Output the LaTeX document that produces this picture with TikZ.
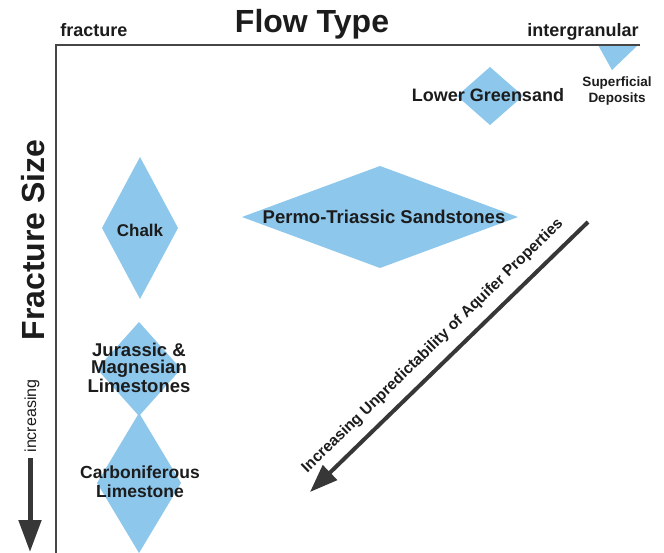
\documentclass[tikz,border=0pt]{standalone}
\usepackage{fontspec}
\setmainfont{Liberation Sans}
\usetikzlibrary{shapes.geometric,arrows.meta}
\definecolor{aqblue}{RGB}{141,199,236}
\definecolor{ink}{RGB}{28,28,28}
\definecolor{axisgray}{RGB}{70,70,70}
\definecolor{arrowgray}{RGB}{55,55,55}
\begin{document}
\begin{tikzpicture}[x=1pt,y=-1pt,
  lith/.style={diamond, fill=aqblue, draw=none, inner sep=0pt, outer sep=0pt},
  lab/.style={font=\bfseries\fontsize{18}{17}\selectfont, text=ink, align=center, inner sep=0pt},
  axislab/.style={font=\bfseries\fontsize{18}{18}\selectfont, text=ink, inner sep=0pt},
  biglab/.style={font=\bfseries\fontsize{32}{32}\selectfont, text=ink, inner sep=0pt},
]
\useasboundingbox[fill=white] (0,0) rectangle (664,553);

% lithology diamonds
\node[lith, minimum width=66, minimum height=58] (dgreen) at (490,96) {};
\node[lith, minimum width=76, minimum height=142] (dchalk) at (140,228) {};
\node[lith, minimum width=276, minimum height=102] (dpermo) at (380,217) {};
\node[lith, minimum width=84, minimum height=94] (djura) at (139,369) {};
\node[lith, minimum width=84, minimum height=140] (dcarb) at (139,483) {};
\coordinate (sa) at (598,45);
\coordinate (sb) at (638,45);
\coordinate (sc) at (612,70);
\fill[aqblue] (sa) -- (sb) -- (sc) -- cycle;

% axes
\coordinate (origin) at (56,45);
\coordinate (xend) at (640,45);
\coordinate (yend) at (56,553);
\draw[axisgray, line width=1.5] (xend) -- (origin) -- (yend);

% axis labels
\node[biglab, anchor=base] (title) at (312,33) {Flow Type};
\node[axislab, anchor=base] (frac) at (94,37) {fracture};
\node[axislab, anchor=base] (inter) at (583,37) {intergranular};
\node[biglab, rotate=90, anchor=base] (fsize) at (44,240) {Fracture Size};
\node[font=\fontsize{16}{16}\selectfont, text=ink, rotate=90, anchor=base, inner sep=0pt] (incr) at (36,416) {increasing};
\coordinate (ia) at (30,458);
\coordinate (ib) at (30,552);
\draw[arrowgray, line width=5, -{Triangle[length=32,width=22]}] (ia) -- (ib);

% lithology labels
\node[lab, anchor=base] (tgreen) at (488,102) {Lower Greensand};
\node[lab, font=\bfseries\fontsize{13.5}{15.5}\selectfont] (tsup) at (617,91) {Superficial\\Deposits};
\node[lab, font=\bfseries\fontsize{17}{17}\selectfont, anchor=base] (tchalk) at (140,237) {Chalk};
\node[lab, font=\bfseries\fontsize{18.5}{18.5}\selectfont, anchor=base] (tpermo) at (384,224) {Permo-Triassic Sandstones};
\node[lab, font=\bfseries\fontsize{18.5}{17}\selectfont] (tjura) at (139,368) {Jurassic \&\\Magnesian\\Limestones};
\node[lab, font=\bfseries\fontsize{17.5}{19}\selectfont] (tcarb) at (140,482) {Carboniferous\\Limestone};

% unpredictability arrow
\coordinate (ua) at (588,222);
\coordinate (ub) at (310,492);
\draw[arrowgray, line width=4, -{Triangle[length=28,width=20]}] (ua) -- (ub);
\node[font=\bfseries\fontsize{15.5}{15.5}\selectfont, text=ink, rotate=44.2, anchor=base, inner sep=0pt] (tunp) at (435.5,349) {Increasing Unpredictability of Aquifer Properties};
\end{tikzpicture}
\end{document}
